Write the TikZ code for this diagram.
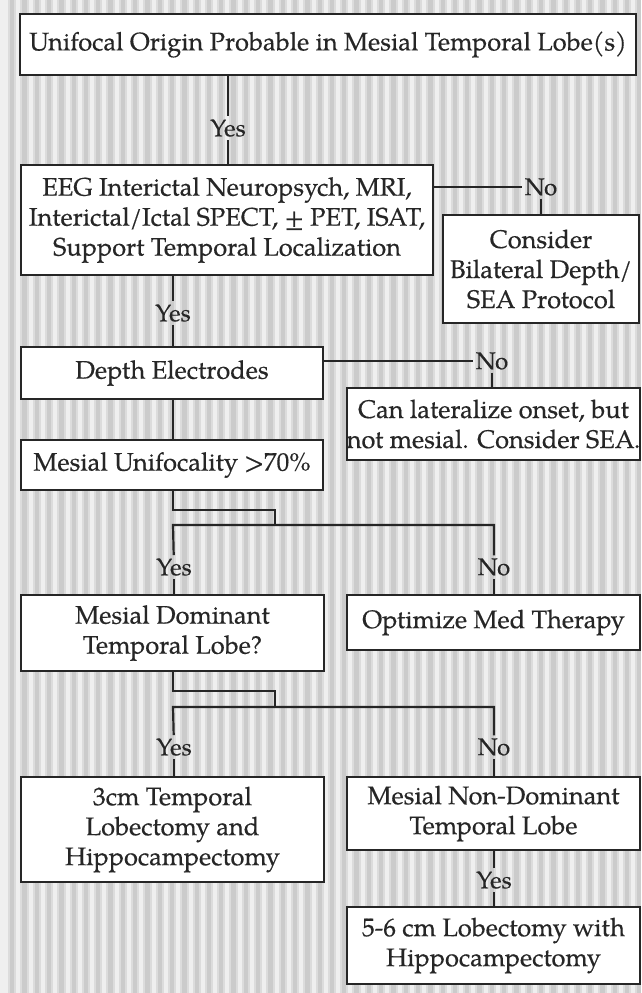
\documentclass[tikz,border=0pt]{standalone}
\usepackage{fontspec}
\setmainfont{texgyrepagella-regular.otf}[FakeBold=0.35]
\definecolor{inkc}{HTML}{262626}
\definecolor{bgdark}{HTML}{CBCBCB}
\definecolor{bgmid}{HTML}{DCDCDC}
\definecolor{bglight}{HTML}{EFEFEF}
\newcommand\flowbox[6]{%
  \node[box, minimum width={#4-#2}, minimum height={#5-#3}]
    (#1) at ({(#2+#4)/2},{(#3+#5)/2}) {#6};}
\begin{document}
\begin{tikzpicture}[x=1pt,y=-1pt,
  box/.style={draw=inkc, line width=2.2pt, fill=white, inner sep=0pt,
    align=center, text=inkc, font=\fontsize{25.4}{30}\selectfont},
  lbl/.style={inner sep=3pt, text=inkc, font=\fontsize{24}{28}\selectfont},
  wire/.style={draw=inkc, line width=2.2pt}]
\useasboundingbox (0,0) rectangle (641,993);

% striped grey backdrop
\fill[bgdark] (0,0) rectangle (641,993);
\foreach \i in {0,...,52} {
  \fill[bgmid] ({\i*12.3+2},0) rectangle ++(8,993);
  \fill[bglight] ({\i*12.3+4},0) rectangle ++(4,993);
}
\fill[bglight] (0,0) rectangle (6,993);

% boxes: name, left, top, right, bottom, text
\flowbox{n1}{20}{14}{636}{75}{Unifocal Origin Probable in Mesial Temporal Lobe(s)}
\flowbox{n2}{21}{165}{433}{275}{EEG Interictal Neuropsych, MRI,\\Interictal/Ictal SPECT, ± PET, ISAT,\\Support Temporal Localization}
\flowbox{n3}{443}{215}{639}{323}{Consider\\Bilateral Depth/\\SEA Protocol}
\flowbox{n4}{21}{347}{323}{399}{Depth Electrodes}
\flowbox{n5}{347}{388}{640}{460}{Can lateralize onset, but\\not mesial. Consider SEA.}
\flowbox{n6}{21}{440}{323}{490}{Mesial Unifocality >70\%}
\flowbox{n7}{21}{595}{324}{671}{Mesial Dominant\\Temporal Lobe?}
\flowbox{n8}{347}{595}{640}{650}{Optimize Med Therapy}
\flowbox{n9}{21}{777}{324}{882}{3cm Temporal\\Lobectomy and\\Hippocampectomy}
\flowbox{n10}{347}{777}{640}{850}{Mesial Non-Dominant\\Temporal Lobe}
\flowbox{n11}{347}{907}{640}{984}{5-6 cm Lobectomy with\\Hippocampectomy}

% branch labels
\node[lbl] (yes1) at (228,128) {Yes};
\node[lbl] (no1) at (541,187) {No};
\node[lbl] (yes2) at (173,313) {Yes};
\node[lbl] (no2) at (492,361) {No};
\node[lbl] (yes3) at (174,567) {Yes};
\node[lbl] (no3) at (494,567) {No};
\node[lbl] (yes4) at (174,747) {Yes};
\node[lbl] (no4) at (494,747) {No};
\node[lbl] (yes5) at (494,880) {Yes};

% junction points of the split connectors
\coordinate (j1a) at (173,510);
\coordinate (j1b) at (275,510);
\coordinate (j1c) at (275,525);
\coordinate (s1l) at (173,525);
\coordinate (s1r) at (494,525);
\coordinate (j2a) at (173,691);
\coordinate (j2b) at (275,691);
\coordinate (j2c) at (275,707);
\coordinate (s2l) at (173,707);
\coordinate (s2r) at (494,707);

% connectors
\draw[wire] (yes1 |- n1.south) -- (yes1) -- (yes1 |- n2.north);
\draw[wire] (n2.east |- no1) -- (no1);
\draw[wire] (no1) -- (no1 |- n3.north);
\draw[wire] (yes2 |- n2.south) -- (yes2) -- (yes2 |- n4.north);
\draw[wire] (n4.east |- no2) -- (no2);
\draw[wire] (no2) -- (no2 |- n5.north);
\draw[wire] (yes2 |- n4.south) -- (yes2 |- n6.north);

\draw[wire] (j1a |- n6.south) -- (j1a) -- (j1b) -- (j1c);
\draw[wire] (yes3) -- (s1l) -- (s1r) -- (no3);
\draw[wire] (yes3) -- (yes3 |- n7.north);
\draw[wire] (no3) -- (no3 |- n8.north);

\draw[wire] (j2a |- n7.south) -- (j2a) -- (j2b) -- (j2c);
\draw[wire] (yes4) -- (s2l) -- (s2r) -- (no4);
\draw[wire] (yes4) -- (yes4 |- n9.north);
\draw[wire] (no4) -- (no4 |- n10.north);

\draw[wire] (yes5 |- n10.south) -- (yes5) -- (yes5 |- n11.north);
\end{tikzpicture}
\end{document}
